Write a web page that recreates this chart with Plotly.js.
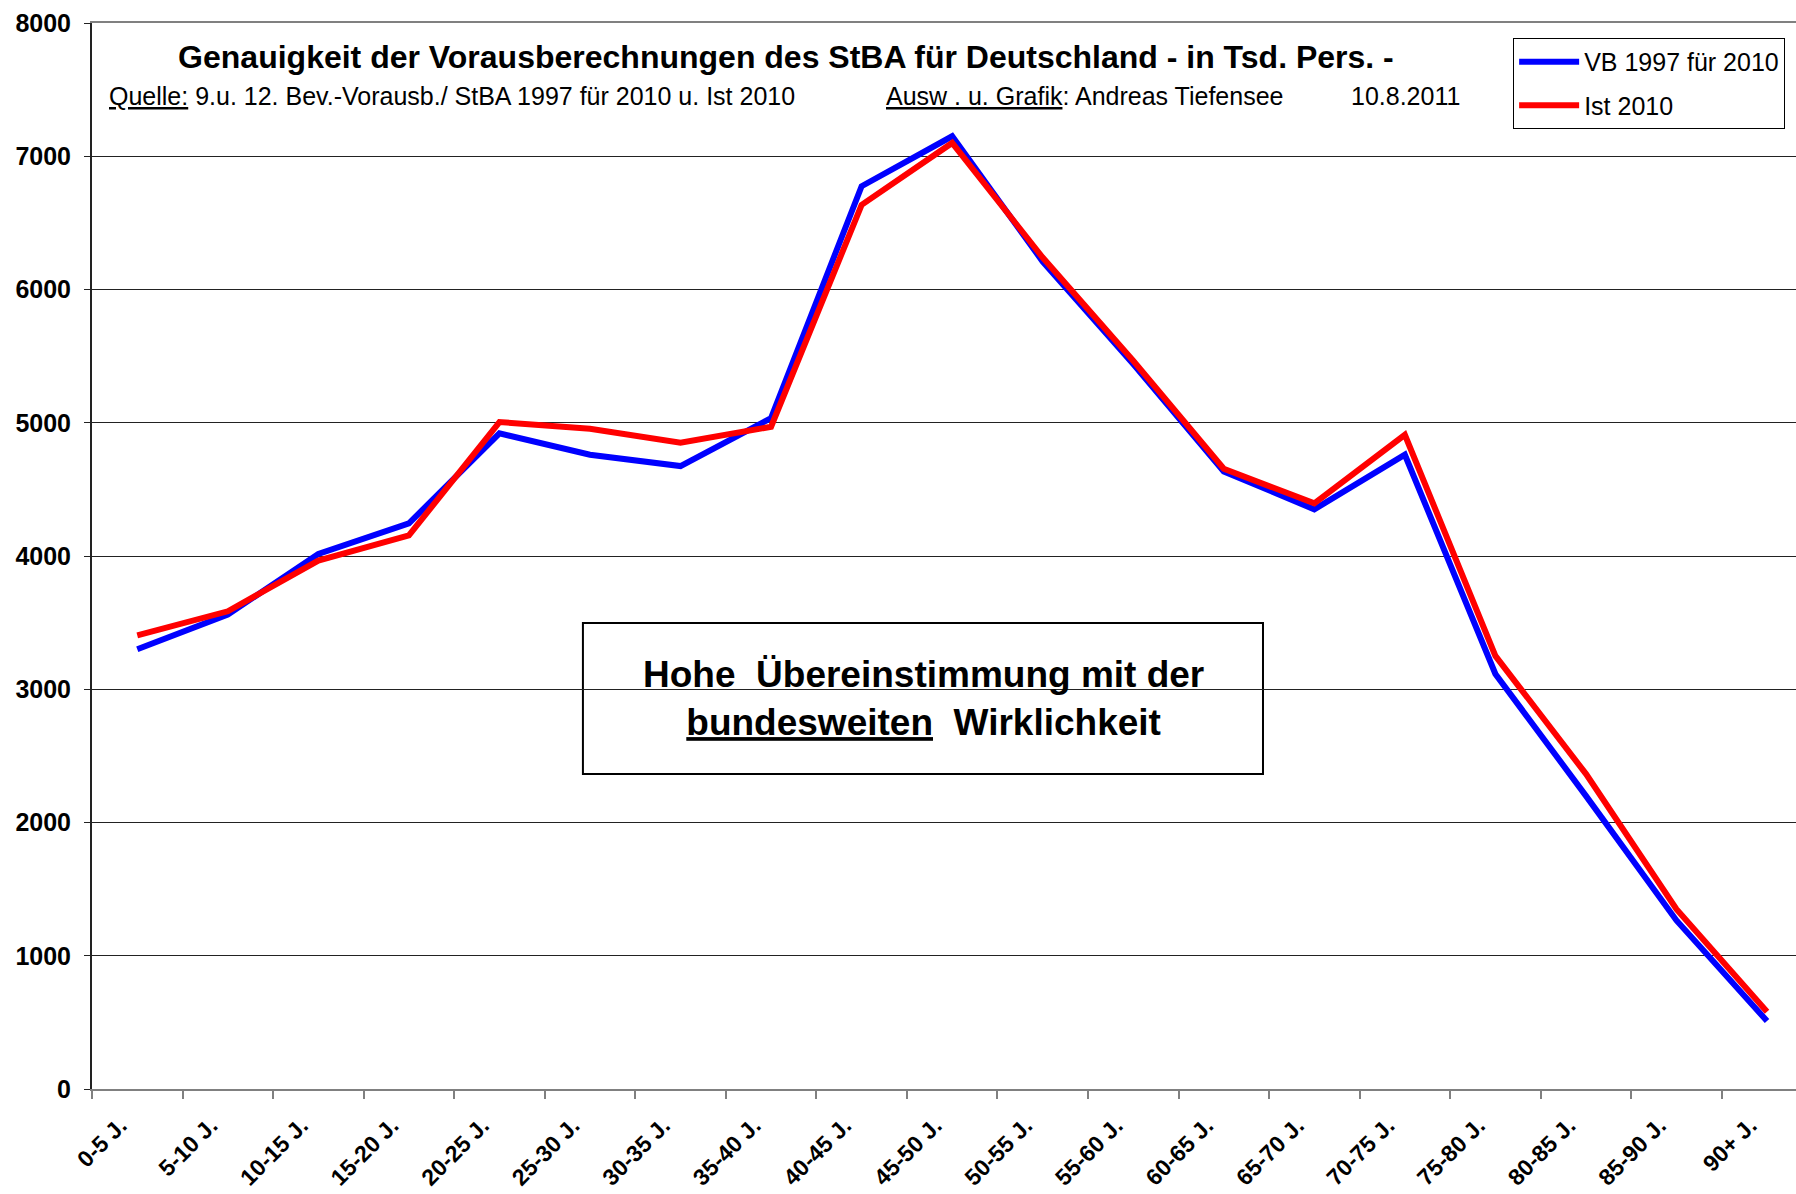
<!DOCTYPE html>
<html>
<head>
<meta charset="utf-8">
<script src="https://cdn.plot.ly/plotly-3.0.1.min.js"></script>
<style>
  html, body { margin: 0; padding: 0; background: #fff; overflow: hidden; }
  #chart { width: 1796px; height: 1194px; }
</style>
</head>
<body>
<div id="chart"></div>
<script>
// Age groups (categories)
const ageGroups = ["0-5 J.", "5-10 J.", "10-15 J.", "15-20 J.", "20-25 J.", "25-30 J.", "30-35 J.", "35-40 J.", "40-45 J.", "45-50 J.", "50-55 J.", "55-60 J.", "60-65 J.", "65-70 J.", "70-75 J.", "75-80 J.", "80-85 J.", "85-90 J.", "90+ J."];

// Vorausberechnung 1997 für 2010 (Tsd. Pers.)
const vb1997 = [3300, 3560, 4015, 4245, 4920, 4760, 4675, 5035, 6775, 7150, 6210, 5440, 4635, 4350, 4760, 3115, 2200, 1265, 510];

// Ist 2010 (Tsd. Pers.)
const ist2010 = [3405, 3585, 3965, 4155, 5005, 4955, 4850, 4970, 6635, 7100, 6240, 5465, 4655, 4395, 4910, 3250, 2365, 1350, 580];

const seriesNames = ["VB 1997 für 2010", "Ist 2010"];
const yTickValues = [0, 1000, 2000, 3000, 4000, 5000, 6000, 7000, 8000];

const titleText = "Genauigkeit der Vorausberechnungen des StBA für Deutschland - in Tsd. Pers. -";
const sourceText = "<u>Quelle:</u> 9.u. 12. Bev.-Vorausb./ StBA 1997 für 2010 u. Ist 2010";
const authorText = "<u>Ausw . u. Grafik</u>: Andreas Tiefensee";
const dateText = "10.8.2011";
const boxText = "Hohe\u00a0\u00a0Übereinstimmung mit der<br><u>bundesweiten</u>\u00a0\u00a0Wirklichkeit";

const FONT = "Liberation Sans, Arial, Helvetica, sans-serif";

const traces = [
  {
    type: "scatter", mode: "lines",
    x: ageGroups, y: vb1997, name: seriesNames[0],
    legendgroup: "a",
    line: { color: "#0000FF", width: 6 }
  },
  {
    type: "scatter", mode: "lines",
    x: ageGroups, y: ist2010, name: seriesNames[1],
    legendgroup: "b",
    line: { color: "#FF0000", width: 6 }
  }
];

const layout = {
  width: 1796, height: 1194,
  paper_bgcolor: "#ffffff", plot_bgcolor: "#ffffff",
  margin: { l: 92, r: 0, t: 23, b: 105 },
  font: { family: FONT, color: "#000" },
  title: {
    text: "<b>" + titleText + "</b>",
    font: { family: FONT, size: 32, color: "#000" },
    xref: "container", yref: "container",
    x: 0.4376, xanchor: "center",
    y: 0.9523, yanchor: "middle"
  },
  showlegend: true,
  legend: {
    x: 0.834, xanchor: "left",
    y: 0.986, yanchor: "top",
    bgcolor: "#ffffff", bordercolor: "#000", borderwidth: 1,
    font: { family: FONT, size: 25, color: "#000" },
    traceorder: "grouped", tracegroupgap: 8,
    itemwidth: 60
  },
  xaxis: {
    type: "category",
    range: [-0.5, 18.32],
    tickson: "boundaries",
    ticks: "outside", ticklen: 8, tickcolor: "#808080", tickwidth: 2,
    showline: true, linecolor: "#808080", linewidth: 2, mirror: true,
    showgrid: false, zeroline: false,
    tickangle: -45,
    tickfont: { family: FONT, size: 23, color: "#000", weight: "bold" },
    ticklabelstandoff: 12,
    ticklabelshift: -17,
    fixedrange: true
  },
  yaxis: {
    range: [0, 8000],
    tickvals: yTickValues,
    ticktext: yTickValues.map(String),
    ticks: "outside", ticklen: 6, tickcolor: "#222", tickwidth: 1,
    showline: true, linecolor: "#222", linewidth: 2,
    showgrid: true, gridcolor: "#222", gridwidth: 1,
    zeroline: false,
    tickfont: { family: FONT, size: 25, color: "#000", weight: "bold" },
    ticklabelstandoff: 8,
    fixedrange: true
  },
  shapes: [
    {
      type: "rect", xref: "paper", yref: "paper",
      x0: 0.2881, x1: 0.6872, y0: 0.2955, y1: 0.4371,
      line: { color: "#000", width: 2 },
      fillcolor: "#ffffff", layer: "between"
    }
  ],
  annotations: [
    {
      xref: "paper", yref: "paper", x: 0.0088, y: 0.9315,
      xanchor: "left", yanchor: "middle", showarrow: false,
      text: sourceText, font: { family: FONT, size: 25, color: "#000" }
    },
    {
      xref: "paper", yref: "paper", x: 0.4648, y: 0.9315,
      xanchor: "left", yanchor: "middle", showarrow: false,
      text: authorText, font: { family: FONT, size: 25, color: "#000" }
    },
    {
      xref: "paper", yref: "paper", x: 0.7377, y: 0.9315,
      xanchor: "left", yanchor: "middle", showarrow: false,
      text: dateText, font: { family: FONT, size: 25, color: "#000" }
    },
    {
      xref: "paper", yref: "paper", x: 0.4877, y: 0.3663,
      xanchor: "center", yanchor: "middle", showarrow: false,
      align: "center",
      text: "<b>" + boxText + "</b>",
      font: { family: FONT, size: 37, color: "#000" }
    }
  ]
};

Plotly.newPlot("chart", traces, layout, { staticPlot: true, displayModeBar: false });
</script>
</body>
</html>
